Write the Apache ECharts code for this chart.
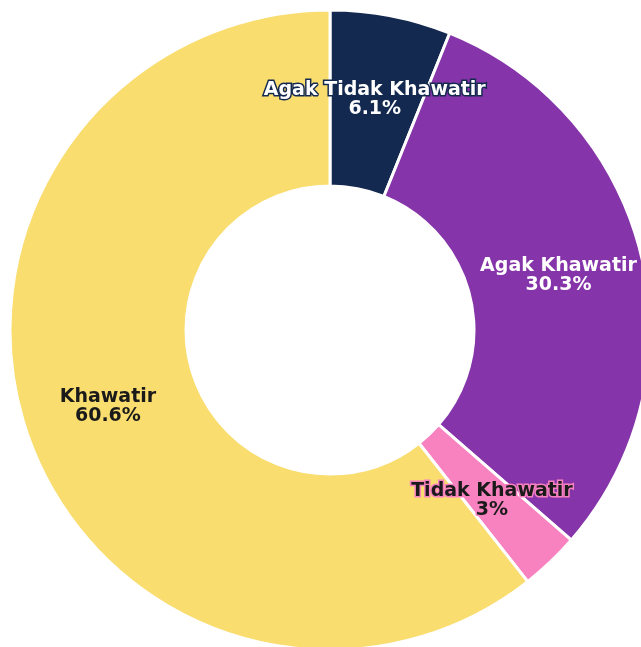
<!DOCTYPE html>
<html>
<head>
<meta charset="utf-8">
<script src="https://cdn.jsdelivr.net/npm/echarts@6/dist/echarts.min.js"></script>
<style>
  html, body { margin: 0; padding: 0; background: #fff; }
  #chart { width: 641px; height: 647px; }
</style>
</head>
<body>
<div id="chart"></div>
<script>
// data
var categories = ["Agak Tidak Khawatir", "Agak Khawatir", "Tidak Khawatir", "Khawatir"];
var values = [6.1, 30.3, 3, 60.6];
var sliceColors = ["#14294f", "#8535a9", "#f882c0", "#f9dd6f"];
var textColors = ["#ffffff", "#ffffff", "#1a1a1a", "#1a1a1a"];

var myChart = echarts.init(document.getElementById("chart"));

var option = {
  animation: false,
  series: [
    {
      type: "pie",
      center: [330, 330],
      radius: [144, 320],
      startAngle: 90,
      clockwise: true,
      avoidLabelOverlap: false,
      itemStyle: {
        borderColor: "#ffffff",
        borderWidth: 3
      },
      label: {
        position: "inside",
        fontFamily: "DejaVu Sans",
        fontWeight: "bold",
        fontSize: 19,
        lineHeight: 19,
        formatter: function(p) {
          return p.name + "\n" + p.value + "%";
        }
      },
      data: categories.map(function(c, i) {
        return {
          name: c,
          value: values[i],
          itemStyle: { color: sliceColors[i] },
          label: {
            color: textColors[i],
            textBorderColor: sliceColors[i],
            textBorderWidth: 3
          }
        };
      })
    }
  ]
};

myChart.setOption(option);
</script>
</body>
</html>
